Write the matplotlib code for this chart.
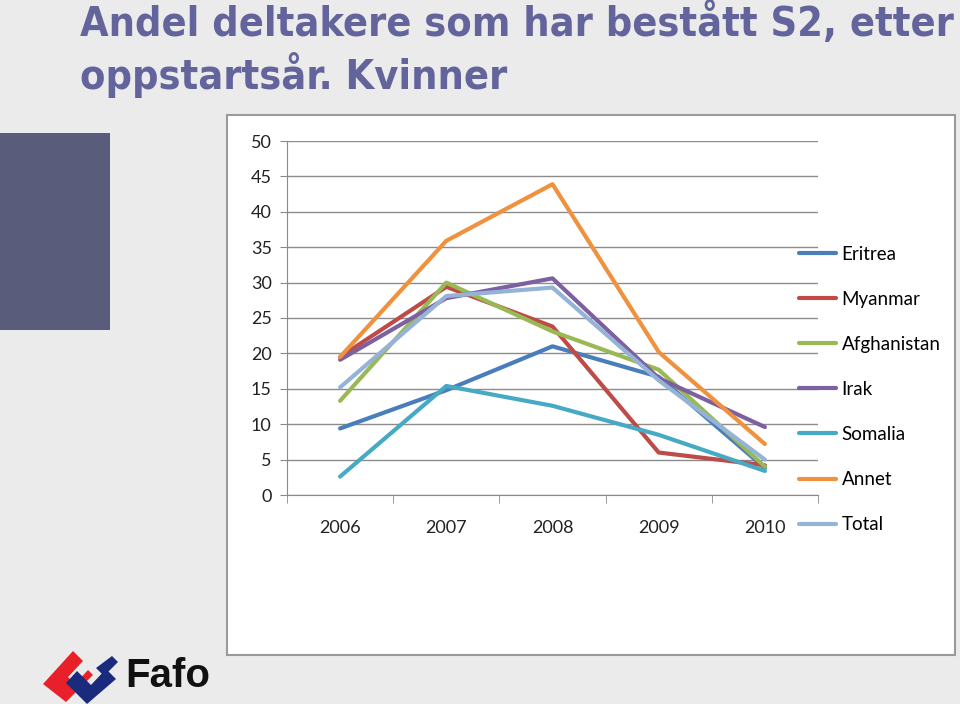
import matplotlib
matplotlib.use("Agg")
import matplotlib.pyplot as plt
from matplotlib.patches import Rectangle, Polygon

years = ["2006", "2007", "2008", "2009", "2010"]
eritrea = [9.4, 14.8, 21.0, 16.7, 3.8]
myanmar = [19.5, 29.4, 23.8, 6.0, 4.2]
afghanistan = [13.3, 30.0, 23.1, 17.7, 4.0]
irak = [19.1, 27.8, 30.6, 16.5, 9.6]
somalia = [2.6, 15.4, 12.6, 8.5, 3.4]
annet = [19.5, 35.9, 43.9, 20.2, 7.2]
total = [15.2, 28.1, 29.3, 16.2, 5.0]

series = [
    ("Eritrea", eritrea, "#4a7ebb"),
    ("Myanmar", myanmar, "#be4b48"),
    ("Afghanistan", afghanistan, "#98b954"),
    ("Irak", irak, "#7d60a0"),
    ("Somalia", somalia, "#46aac5"),
    ("Annet", annet, "#f0913e"),
    ("Total", total, "#95b3d7"),
]

W, H = 960, 704
fig = plt.figure(figsize=(W / 100, H / 100), dpi=100)
fig.patch.set_facecolor("#ebebeb")

def px(x, y, w, h):
    # pixel box (top-left origin) -> figure fraction
    return [x / W, 1 - (y + h) / H, w / W, h / H]

# title
fig.text(80 / W, 1 - 2 / H, "Andel deltakere som har bestått S2, etter\noppstartsår. Kvinner",
         ha="left", va="top", fontsize=29.6, fontweight="bold", color="#64649c",
         family=["Liberation Sans Narrow", "DejaVu Sans"], fontstretch="condensed",
         linespacing=1.2)

# left dark block
fig.patches.append(Rectangle((0, 1 - 330 / H), 110 / W, 197 / H, transform=fig.transFigure,
                             facecolor="#5a5c7c", edgecolor="none", zorder=-2))

# white chart box
fig.patches.append(Rectangle((227 / W, 1 - 655 / H), 728 / W, 540 / H, transform=fig.transFigure,
                             facecolor="white", edgecolor="#9a9a9a", linewidth=1.5, zorder=-2))

ax = fig.add_axes(px(287, 141, 531, 354))
ax.set_facecolor("none")
x = list(range(len(years)))
for name, vals, col in series:
    ax.plot(x, vals, color=col, linewidth=3, label=name, solid_capstyle="round")

ax.set_xlim(-0.5, 4.5)
ax.set_ylim(0, 50)
ax.set_yticks(range(0, 51, 5))
ax.set_xticks(x)
ax.set_xticklabels(years)
ax.set_xticks([i - 0.5 for i in range(6)], minor=True)
ax.tick_params(axis="x", which="major", length=0, pad=18, labelsize=13, labelcolor="#222222")
ax.tick_params(axis="x", which="minor", length=6, color="#8a8a8a")
ax.tick_params(axis="y", length=5, color="#8a8a8a", labelsize=13, labelcolor="#222222", pad=6)
ax.grid(axis="y", color="#8c8c8c", linewidth=1)
ax.set_axisbelow(True)
for s in ["top", "right"]:
    ax.spines[s].set_visible(False)
for s in ["left", "bottom"]:
    ax.spines[s].set_color("#8a8a8a")
for lab in ax.get_xticklabels() + ax.get_yticklabels():
    lab.set_family(["Lato", "DejaVu Sans"])

leg = fig.legend(loc="upper left", bbox_to_anchor=(791 / W, 1 - 238 / H), frameon=False,
                 handlelength=2.0, labelspacing=1.5, handletextpad=0.3,
                 borderaxespad=0, prop={"family": ["Lato", "DejaVu Sans"], "size": 13.5})

# Fafo logo
tr = fig.transFigure
def poly(pts, col):
    fig.patches.append(Polygon([(a / W, 1 - b / H) for a, b in pts], closed=True,
                               transform=tr, facecolor=col, edgecolor="none"))
poly([(43, 684), (73, 651), (83, 661), (68, 677), (75, 684), (88, 670), (93, 675), (66, 702)], "#e8202a")
poly([(77, 671), (91, 685), (106, 669), (116, 679), (87, 704), (66, 683)], "#1a2a7c")
poly([(96, 668), (112, 656), (118, 662), (104, 676)], "#1a2a7c")
fig.text(125 / W, 1 - 676 / H, "Fafo", ha="left", va="center", fontsize=29, fontweight="bold",
         color="#111111", family=["Liberation Sans", "DejaVu Sans"])

fig.savefig("out.png", dpi=100, facecolor=fig.get_facecolor())
